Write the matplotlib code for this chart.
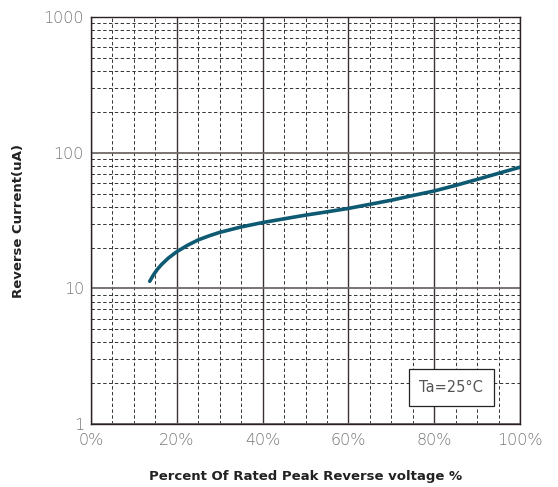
import numpy as np
import matplotlib.pyplot as plt
from matplotlib.ticker import FixedLocator, NullFormatter

# values
percent = [13.7, 14.5, 15.5, 16.5, 18, 20, 22.5, 25, 27.5, 30, 35, 40, 45, 50, 55, 60, 65, 70, 75, 80, 85, 90, 95, 100]
current = [11.3, 12.5, 13.87, 15.07, 16.71, 18.66, 20.8, 22.8, 24.4, 25.9, 28.4, 30.6, 32.6, 34.7, 36.7,
           38.9, 41.7, 44.7, 48.4, 52.3, 57.5, 63.6, 70.6, 78.3]

x_ticks = [0, 20, 40, 60, 80, 100]
x_labels = ['0%', '20%', '40%', '60%', '80%', '100%']
y_ticks = [1, 10, 100, 1000]
y_labels = ['1', '10', '100', '1000']
note = 'Ta=25°C'

fig = plt.figure(figsize=(5.58, 4.87), dpi=100)
ax = fig.add_axes([0.163, 0.129, 0.769, 0.836])

ax.set_yscale('log')
ax.set_xlim(0, 100)
ax.set_ylim(1, 1000)

# grid: dashed minor lines, solid major lines
ax.xaxis.set_minor_locator(FixedLocator(np.arange(5, 100, 5)))
ax.yaxis.set_minor_locator(FixedLocator([m * d for d in (1, 10, 100) for m in range(2, 10)]))
ax.yaxis.set_minor_formatter(NullFormatter())
ax.grid(which='minor', color='#333333', linestyle=(0, (3.5, 2.5)), linewidth=0.7)
ax.grid(which='major', axis='x', color='#3a3232', linestyle='-', linewidth=1.0)
ax.grid(which='major', axis='y', color='#6e6866', linestyle='-', linewidth=1.3)

ax.plot(percent, current, color='#0d5a72', linewidth=2.6, solid_capstyle='round', zorder=3)

ax.set_xticks(x_ticks)
ax.set_xticklabels(x_labels)
ax.set_yticks(y_ticks)
ax.set_yticklabels(y_labels)
ax.tick_params(which='both', length=0, labelsize=11.5, labelcolor='#777777')
ax.tick_params(axis='x', pad=6)
ax.tick_params(axis='y', pad=5)
for lbl in ax.get_xticklabels() + ax.get_yticklabels():
    lbl.set_fontweight('light')

for s in ax.spines.values():
    s.set_color('#2a2222')
    s.set_linewidth(1.0)

ax.set_xlabel('Percent Of Rated Peak Reverse voltage %', fontsize=9.5, fontweight='bold', color='#222222', labelpad=16)
ax.set_ylabel('Reverse Current(uA)', fontsize=9.5, fontweight='bold', color='#222222', labelpad=13)

ax.text(84, 1.87, note, ha='center', va='center', fontsize=10.5, color='#555555', zorder=5,
        bbox=dict(boxstyle='square,pad=0.75', facecolor='white', edgecolor='#222222', linewidth=0.9))

fig.savefig('out.png', dpi=100)
